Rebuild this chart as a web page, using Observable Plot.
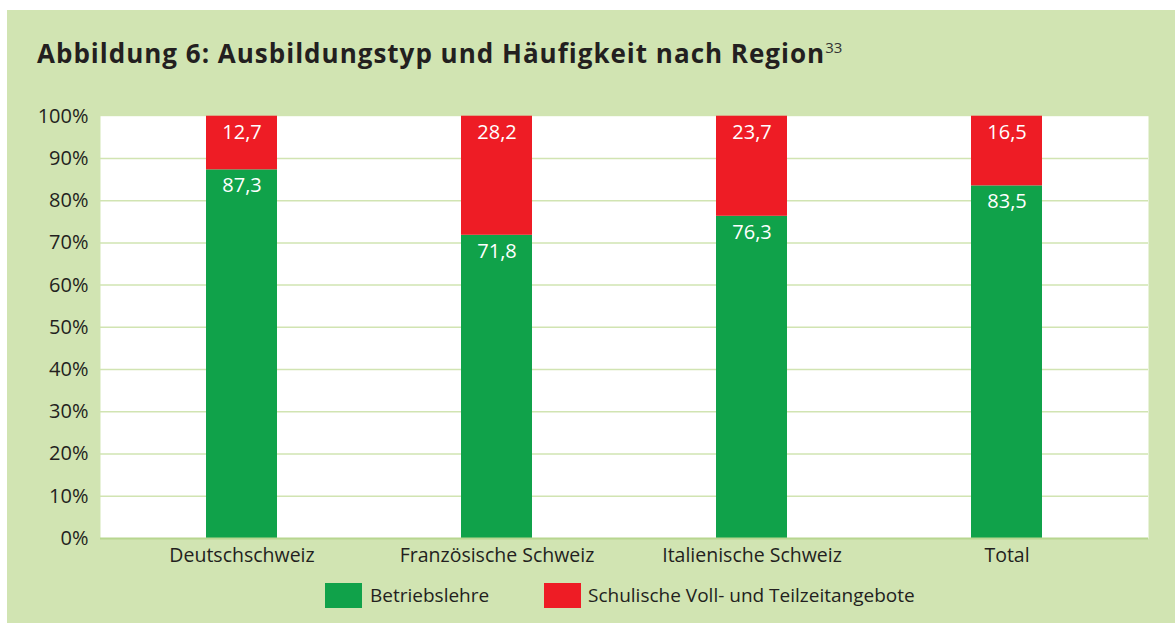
<!DOCTYPE html>
<html><head><meta charset="utf-8">
<script src="https://cdn.jsdelivr.net/npm/d3@7"></script>
<script src="https://cdn.jsdelivr.net/npm/@observablehq/plot@0.6"></script>
<style>
html,body{margin:0;padding:0;background:#fff;}
#fig{position:absolute;left:7px;top:10px;width:1168px;height:613px;background:#d1e4b2;font-family:"Open Sans",sans-serif;color:#231f20;}
#title{position:absolute;left:30px;top:25px;font-size:26px;font-weight:700;white-space:nowrap;letter-spacing:1px;}
#title sup{font-size:15px;font-weight:400;vertical-align:10px;line-height:0;color:#333;letter-spacing:0;}
#chart{position:absolute;left:0;top:80px;}
#legend{position:absolute;top:573px;left:0;width:1168px;height:25px;font-size:19px;color:#231f20;}
.sw{position:absolute;top:0;width:37px;height:25px;}
.lt{position:absolute;top:0;line-height:25px;white-space:nowrap;}
</style></head>
<body>
<div id="fig">
  <div id="title">Abbildung 6: Ausbildungstyp und Häufigkeit nach Region<sup>33</sup></div>
  <div id="chart"></div>
  <div id="legend"></div>
</div>
<script>
const regions = ["Deutschschweiz", "Französische Schweiz", "Italienische Schweiz", "Total"];
const series = ["Betriebslehre", "Schulische Voll- und Teilzeitangebote"];
const betriebslehre = [87.3, 71.8, 76.3, 83.5];
const schulisch = [12.7, 28.2, 23.7, 16.5];
const colors = ["#10a24a", "#ee1c25"];
const yTicks = [0, 10, 20, 30, 40, 50, 60, 70, 80, 90, 100];

const data = [];
regions.forEach((r, i) => {
  data.push({region: r, series: series[0], value: betriebslehre[i]});
  data.push({region: r, series: series[1], value: schulisch[i]});
});
const fmt = v => v.toFixed(1).replace(".", ",");

const labels = [];
regions.forEach((r, i) => {
  labels.push({region: r, top: betriebslehre[i], value: betriebslehre[i]});
  labels.push({region: r, top: betriebslehre[i] + schulisch[i], value: schulisch[i]});
});

const plot = Plot.plot({
  width: 1168,
  height: 490,
  marginTop: 25.7,
  marginBottom: 42,
  marginLeft: 93,
  marginRight: 27,
  style: {background: "transparent", fontFamily: "Open Sans, sans-serif", fontSize: "20px", color: "#231f20"},
  x: {domain: regions, range: [106, 1127], paddingInner: 0.722, paddingOuter: 0.361, label: null},
  y: {domain: [0, 100], label: null},
  color: {domain: series, range: colors},
  marks: [
    Plot.frame({fill: "white", stroke: null}),
    Plot.ruleY(yTicks.filter(d => d > 0 && d < 100), {stroke: "#d1e4b2", strokeWidth: 1.5}),
    Plot.barY(data, {x: "region", y: "value", fill: "series", order: series}),
    Plot.ruleY([0], {stroke: "#b8d690", strokeWidth: 2}),
    Plot.text(labels, {x: "region", y: "top", text: d => fmt(d.value), fill: "white", dy: 16, lineAnchor: "middle", fontSize: 20}),
    Plot.axisY({ticks: yTicks, tickFormat: d => d + "%", tickSize: 0, tickPadding: 12, fontSize: 20, fill: "#231f20"}),
    Plot.axisX({tickSize: 0, tickPadding: 10, fontSize: 19.5, fill: "#231f20"})
  ]
});
document.getElementById("chart").appendChild(plot);

const legend = document.getElementById("legend");
const pos = [[318, 363], [537, 581]];
series.forEach((s, i) => {
  const sw = document.createElement("div");
  sw.className = "sw"; sw.style.left = pos[i][0] + "px"; sw.style.background = colors[i];
  const t = document.createElement("div");
  t.className = "lt"; t.style.left = pos[i][1] + "px"; t.textContent = s;
  legend.appendChild(sw); legend.appendChild(t);
});
</script>
</body></html>
